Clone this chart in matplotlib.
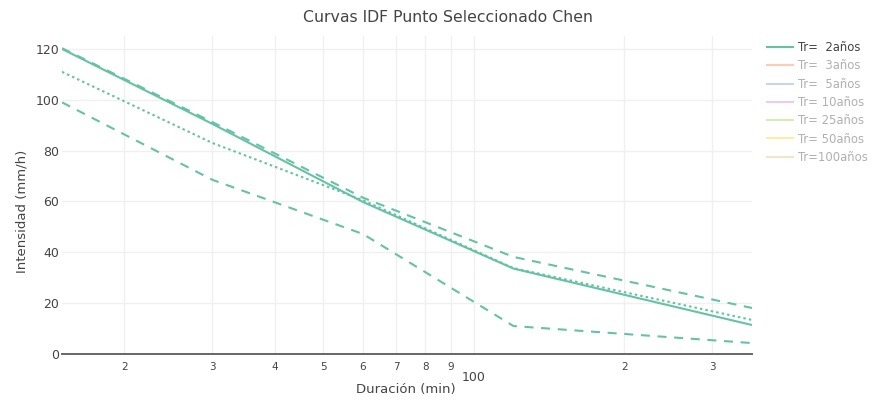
import matplotlib
matplotlib.use("Agg")
import matplotlib.pyplot as plt
from matplotlib.lines import Line2D

plt.rcParams['font.family'] = ['DejaVu Sans']
plt.rcParams['lines.scale_dashes'] = False

# Data
durations = [15, 30, 60, 120, 360]
tr2_central = [120, 90.5, 59.8, 33.6, 11.4]
tr2_upper = [120.3, 91.2, 61.5, 38.2, 18.1]
tr2_dotted = [111, 83, 60.5, 33.8, 13.4]
tr2_lower = [99, 68.5, 47.2, 11, 4.3]

legend_labels = ["Tr=  2años", "Tr=  3años", "Tr=  5años", "Tr= 10años",
                 "Tr= 25años", "Tr= 50años", "Tr=100años"]
legend_colors = ["#66c2a5", "#fc8d62", "#8da0cb", "#e78ac3",
                 "#a6d854", "#ffd92f", "#e5c494"]

title = "Curvas IDF Punto Seleccionado Chen"
xlabel = "Duración (min)"
ylabel = "Intensidad (mm/h)"
yticks = [0, 20, 40, 60, 80, 100, 120]
minor_xticks = [20, 30, 40, 50, 60, 70, 80, 90, 200, 300]
minor_xlabels = ["2", "3", "4", "5", "6", "7", "8", "9", "2", "3"]
major_xticks = [100]
major_xlabels = ["100"]

W, H = 875, 400
fig = plt.figure(figsize=(W / 100, H / 100), dpi=100)
left, right, top, bottom = 62, 752, 36, 354
ax = fig.add_axes([left / W, 1 - bottom / H, (right - left) / W, (bottom - top) / H])

green = legend_colors[0]
ax.plot(durations, tr2_central, color=green, lw=1.5, solid_capstyle='butt', zorder=4)
ax.plot(durations, tr2_upper, color=green, lw=1.5, dashes=(6.5, 5.5), zorder=3)
ax.plot(durations, tr2_dotted, color=green, lw=1.5, dashes=(1.8, 2.2), zorder=3)
ax.plot(durations, tr2_lower, color=green, lw=1.5, dashes=(6.5, 5.5), zorder=3)

ax.set_xscale('log')
ax.set_xlim(durations[0], durations[-1])
ax.set_ylim(0, (bottom - top) / 2.542)

ax.set_xticks(major_xticks)
ax.set_xticklabels(major_xlabels)
ax.set_xticks(minor_xticks, minor=True)
ax.set_xticklabels(minor_xlabels, minor=True)
ax.tick_params(axis='x', which='major', length=0, pad=12, labelsize=9, labelcolor='#444')
ax.tick_params(axis='x', which='minor', length=0, pad=6, labelsize=7.5, labelcolor='#444')
ax.set_yticks(yticks)
ax.tick_params(axis='y', length=0, pad=2, labelsize=9, labelcolor='#444')

ax.grid(True, which='both', axis='x', color='#f0f0f0', lw=1)
ax.grid(True, which='major', axis='y', color='#f0f0f0', lw=1)
ax.set_axisbelow(True)
for s in ['top', 'right', 'left']:
    ax.spines[s].set_visible(False)
ax.spines['bottom'].set_color('#666666')
ax.spines['bottom'].set_linewidth(1.4)

ax.set_xlabel(xlabel, fontsize=9.5, color='#444')
ax.xaxis.set_label_coords((406 - left) / (right - left), -(390 - bottom) / (bottom - top), transform=ax.transAxes)
ax.xaxis.label.set_va('center')
ax.set_ylabel(ylabel, fontsize=9.5, color='#444')
ax.yaxis.set_label_coords(-(left - 22) / (right - left), (bottom - 211) / (bottom - top), transform=ax.transAxes)
ax.yaxis.label.set_va('center')

fig.text(448 / W, 1 - 17 / H, title, ha='center', va='center', fontsize=11.3, color='#444')

handles = []
for i, c in enumerate(legend_colors):
    handles.append(Line2D([0], [0], color=c, lw=1.5, alpha=1.0 if i == 0 else 0.45))
leg = fig.legend(handles, legend_labels, loc='upper left',
                 bbox_to_anchor=(767 / W, 1 - 41 / H), frameon=False,
                 fontsize=8.4, handlelength=2.2, handletextpad=0.5,
                 labelspacing=0.455, borderpad=0, borderaxespad=0)
for i, t in enumerate(leg.get_texts()):
    t.set_color('#444' if i == 0 else '#b0b0b0')

fig.savefig("out.png", dpi=100)
